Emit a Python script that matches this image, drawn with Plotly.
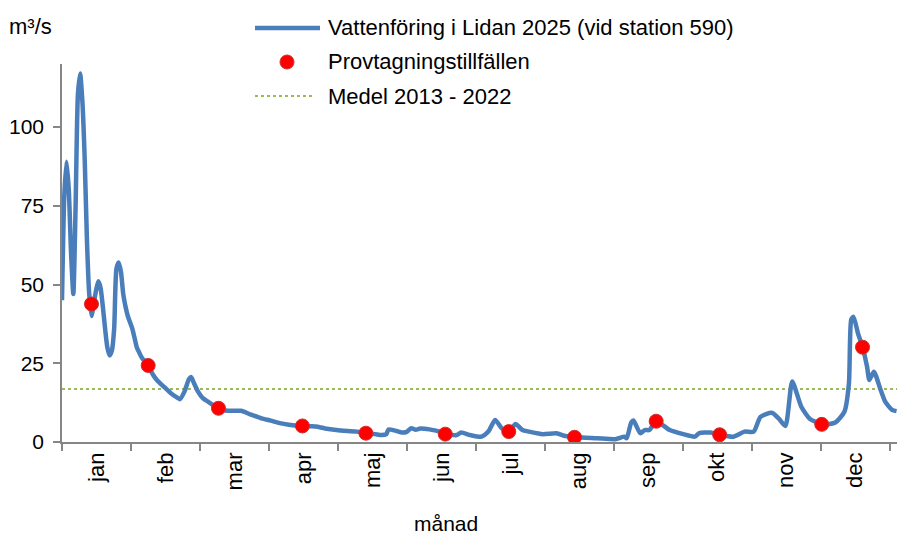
import datetime as dt
import plotly.graph_objects as go

# ---------------- data ----------------
flow_dates = [
    "2025-01-01", "2025-01-02", "2025-01-03", "2025-01-04", "2025-01-05", "2025-01-06",
    "2025-01-07", "2025-01-08", "2025-01-09", "2025-01-10", "2025-01-11", "2025-01-12",
    "2025-01-13", "2025-01-14", "2025-01-15", "2025-01-16", "2025-01-17", "2025-01-18",
    "2025-01-19", "2025-01-20", "2025-01-21", "2025-01-22", "2025-01-23", "2025-01-24",
    "2025-01-25", "2025-01-26", "2025-01-27", "2025-01-28", "2025-01-29", "2025-01-30",
    "2025-01-31", "2025-02-01", "2025-02-02", "2025-02-03", "2025-02-04", "2025-02-05",
    "2025-02-06", "2025-02-08", "2025-02-10", "2025-02-12", "2025-02-15", "2025-02-18",
    "2025-02-21", "2025-02-22", "2025-02-24", "2025-02-26", "2025-02-27", "2025-02-28",
    "2025-03-02", "2025-03-04", "2025-03-07", "2025-03-11", "2025-03-14", "2025-03-18",
    "2025-03-21", "2025-03-25", "2025-03-30", "2025-04-03", "2025-04-07", "2025-04-11",
    "2025-04-17", "2025-04-21", "2025-04-23", "2025-04-27", "2025-05-02", "2025-05-07",
    "2025-05-11", "2025-05-15", "2025-05-19", "2025-05-22", "2025-05-24", "2025-05-25",
    "2025-05-28", "2025-05-31", "2025-06-02", "2025-06-04", "2025-06-06", "2025-06-08",
    "2025-06-12", "2025-06-18", "2025-06-20", "2025-06-24", "2025-06-26", "2025-06-30",
    "2025-07-05", "2025-07-08", "2025-07-11", "2025-07-14", "2025-07-17", "2025-07-20",
    "2025-07-23", "2025-07-26", "2025-08-01", "2025-08-07", "2025-08-11", "2025-08-16",
    "2025-08-25", "2025-09-02", "2025-09-06", "2025-09-07", "2025-09-09", "2025-09-10",
    "2025-09-13", "2025-09-15", "2025-09-17", "2025-09-20", "2025-09-26", "2025-10-02",
    "2025-10-07", "2025-10-09", "2025-10-14", "2025-10-18", "2025-10-24", "2025-10-29",
    "2025-11-02", "2025-11-05", "2025-11-10", "2025-11-13", "2025-11-16", "2025-11-19",
    "2025-11-23", "2025-11-27", "2025-12-03", "2025-12-08", "2025-12-12", "2025-12-14",
    "2025-12-15", "2025-12-16", "2025-12-18", "2025-12-20", "2025-12-22", "2025-12-23",
    "2025-12-25", "2025-12-28", "2025-12-30", "2026-01-02", "2026-01-04",
]
flow_values = [
    45, 78, 89, 80, 60, 47,
    75, 110, 117, 108, 90, 64,
    47, 40, 44, 48, 51, 49,
    43, 36, 30, 27.5, 29, 36,
    55, 57, 54, 47, 43, 40,
    38, 36, 33, 30, 28.5, 27,
    26, 24.3, 21.5, 19.5, 17.5, 15.5,
    14, 13.6, 16, 20, 20.6, 19,
    16, 14, 12.5, 10.7, 10, 9.9,
    9.9, 8.8, 7.5, 6.8, 6.0, 5.5,
    5.1, 5.0, 4.9, 4.3, 3.8, 3.5,
    3.3, 2.8, 2.5, 2.2, 2.5, 4.0,
    3.6, 3.0, 3.2, 4.4, 3.9, 4.3,
    4.0, 3.0, 2.5, 2.2, 3.0, 2.2,
    1.7, 3.3, 7.0, 4.3, 3.3, 5.7,
    3.8, 3.3, 2.5, 2.8, 1.9, 1.5,
    1.2, 0.9, 1.7, 1.2, 6.2, 6.8,
    2.8, 3.8, 3.8, 6.6, 3.8, 2.5,
    1.7, 2.8, 3.0, 2.3, 1.7, 3.3,
    3.3, 8.0, 9.3, 7.5, 5.1, 19.2,
    11.2, 7.2, 5.6, 6.2, 9.6, 18.6,
    38.8, 39.8, 34.5, 30.1, 23.9, 19.7,
    22.3, 16.5, 12.8, 10.2, 9.8,
]

sample_dates = [
    "2025-01-14", "2025-02-08", "2025-03-11", "2025-04-17", "2025-05-15", "2025-06-19",
    "2025-07-17", "2025-08-15", "2025-09-20", "2025-10-18", "2025-12-02", "2025-12-20",
]
sample_values = [43.8, 24.3, 10.7, 5.1, 2.8, 2.5, 3.3, 1.5, 6.6, 2.3, 5.6, 30.1]

mean_value = 16.8  # Medel 2013 - 2022

months = ["jan", "feb", "mar", "apr", "maj", "jun", "jul", "aug", "sep", "okt", "nov", "dec"]

series_names = [
    "Vattenföring i Lidan 2025 (vid station 590)",
    "Provtagningstillfällen",
    "Medel 2013 - 2022",
]

# ---------------- helpers ----------------
START = dt.date(2025, 1, 1)
MONTH_LEN = 365 / 12


def day_index(s):
    return (dt.date.fromisoformat(s) - START).days


flow_x = [day_index(d) for d in flow_dates]
sample_x = [day_index(d) for d in sample_dates]
X_MAX = 368.2

W, H = 897, 535
L, R, T, B = 62, 0, 64, 93
PW, PH = W - L - R, H - T - B


def px(x):
    return (x - L) / PW


def py(y):
    return (H - B - y) / PH


FONT = "Liberation Sans, Arial, sans-serif"
BLUE = "#4A7EBB"
GREEN = "#9BBB59"
RED = "#FF0000"
GRAY = "#868686"

fig = go.Figure()

fig.add_trace(go.Scatter(
    x=[0, X_MAX], y=[mean_value, mean_value], mode="lines",
    line=dict(color=GREEN, width=2, dash="dot"), name=series_names[2],
    showlegend=False, hoverinfo="skip",
))
fig.add_trace(go.Scatter(
    x=flow_x, y=flow_values, mode="lines",
    line=dict(color=BLUE, width=4.5, shape="spline", smoothing=0.6),
    name=series_names[0], showlegend=False,
))
fig.add_trace(go.Scatter(
    x=sample_x, y=sample_values, mode="markers",
    marker=dict(color=RED, size=14, line=dict(color="#D03030", width=1)),
    name=series_names[1], showlegend=False,
))

# ---------------- custom legend ----------------
shapes = [
    dict(type="line", xref="paper", yref="paper", x0=px(255), x1=px(320), y0=py(28), y1=py(28),
         line=dict(color=BLUE, width=4.5)),
    dict(type="line", xref="paper", yref="paper", x0=px(255), x1=px(314), y0=py(96), y1=py(96),
         line=dict(color=GREEN, width=2, dash="dot")),
    dict(type="circle", xref="paper", yref="paper", x0=px(280), x1=px(294), y0=py(55), y1=py(69),
         fillcolor=RED, line=dict(color="#D03030", width=1)),
]
annotations = []
for name, yy in zip(series_names, [28, 62, 96]):
    annotations.append(dict(
        text=name, xref="paper", yref="paper", x=px(326), y=py(yy),
        xanchor="left", yanchor="middle", showarrow=False,
        font=dict(size=22, color="black", family=FONT),
    ))
annotations.append(dict(
    text="m³/s", xref="paper", yref="paper", x=px(7), y=py(27),
    xanchor="left", yanchor="middle", showarrow=False,
    font=dict(size=22, color="black", family=FONT),
))
annotations.append(dict(
    text="månad", xref="paper", yref="paper", x=px(446), y=py(523),
    xanchor="center", yanchor="middle", showarrow=False,
    font=dict(size=21, color="black", family=FONT),
))

fig.update_layout(
    width=W, height=H,
    margin=dict(l=L, r=R, t=T, b=B),
    paper_bgcolor="white", plot_bgcolor="white",
    font=dict(family=FONT, size=21, color="black"),
    showlegend=False,
    shapes=shapes, annotations=annotations,
    xaxis=dict(
        range=[0, X_MAX], showgrid=False, zeroline=False,
        showline=True, linecolor=GRAY, linewidth=1.5,
        tickmode="array",
        tickvals=[MONTH_LEN * (i + 0.5) for i in range(12)],
        ticktext=months, ticks="", tickangle=-90,
        tickfont=dict(size=22, family=FONT),
        minor=dict(tickmode="array", tickvals=[MONTH_LEN * i for i in range(13)],
                   ticks="outside", ticklen=7, tickwidth=1.5, tickcolor=GRAY),
    ),
    yaxis=dict(
        range=[0, 120], showgrid=False, zeroline=False,
        showline=True, linecolor=GRAY, linewidth=1.5,
        tickmode="array", tickvals=[0, 25, 50, 75, 100],
        ticks="outside", ticklen=7, tickwidth=1.5, tickcolor=GRAY,
        ticklabelstandoff=5,
        tickfont=dict(size=21, family=FONT),
    ),
)

fig.write_html(
    "out.html",
    config={"displayModeBar": False},
    post_script="document.body.style.margin='0';document.body.style.overflow='hidden';",
)
